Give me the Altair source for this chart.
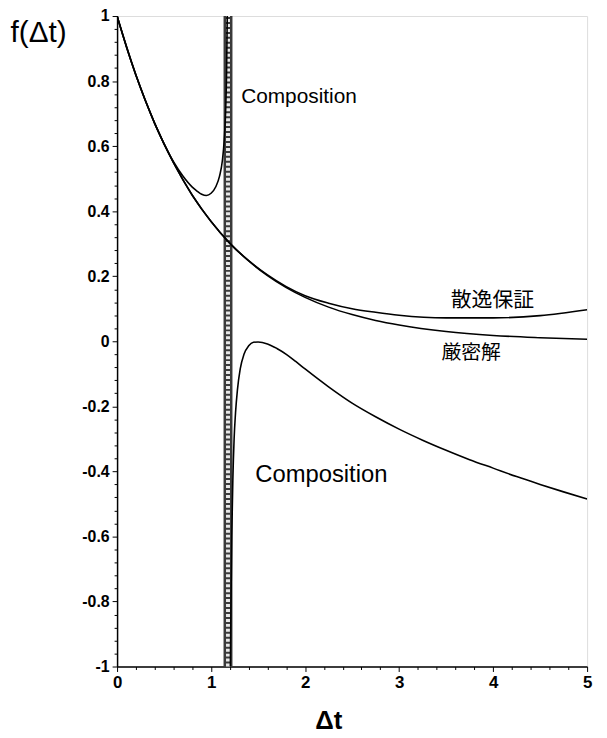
import altair as alt
import pandas as pd

# ---- data ----
x_exact = [0, 0.1, 0.2, 0.3, 0.4, 0.5, 0.6, 0.7, 0.8, 0.9, 1.0, 1.2, 1.4, 1.6, 1.8, 2.0,
           2.25, 2.5, 2.75, 3.0, 3.5, 4.0, 4.5, 5.0]
y_exact = [1.0, 0.905, 0.819, 0.741, 0.670, 0.607, 0.549, 0.497, 0.449, 0.407, 0.368, 0.301,
           0.247, 0.202, 0.165, 0.135, 0.105, 0.082, 0.064, 0.05, 0.03, 0.018, 0.011, 0.006]

x_diss = [0, 0.2, 0.4, 0.6, 0.8, 1.0, 1.2, 1.4, 1.6, 1.8, 2.0, 2.25, 2.5, 2.75, 3.0, 3.5,
          4.0, 4.5, 5.0]
y_diss = [1.0, 0.819, 0.670, 0.549, 0.449, 0.368, 0.301, 0.248, 0.204, 0.168, 0.140, 0.117,
          0.100, 0.089, 0.080, 0.072, 0.072, 0.079, 0.097]

x_comp_up = [0, 0.1, 0.2, 0.3, 0.4, 0.5, 0.6, 0.7, 0.8, 0.85, 0.9, 0.95, 1.0, 1.05, 1.09,
             1.12, 1.14, 1.155, 1.165, 1.172]
y_comp_up = [1.0, 0.905, 0.819, 0.741, 0.670, 0.607, 0.552, 0.508, 0.474, 0.462, 0.452,
             0.448, 0.455, 0.475, 0.508, 0.555, 0.62, 0.71, 0.83, 1.0]

x_comp_lo = [1.205, 1.212, 1.22, 1.232, 1.245, 1.26, 1.28, 1.31, 1.35, 1.40, 1.45, 1.5, 1.6,
             1.7, 1.8, 1.9, 2.0, 2.25, 2.5, 2.75, 3.0, 3.25, 3.5, 3.75, 4.0, 4.25, 4.5,
             4.75, 5.0]
y_comp_lo = [-1.0, -0.8, -0.6, -0.42, -0.3, -0.22, -0.15, -0.085, -0.04, -0.014, -0.003,
             -0.002, -0.008, -0.022, -0.04, -0.062, -0.085, -0.14, -0.19, -0.232, -0.27,
             -0.304, -0.335, -0.364, -0.39, -0.416, -0.44, -0.463, -0.485]

band_x = [1.18]
band_y = [-1.0]
band_y2 = [1.0]

label_text = ["Composition", "Composition"]
label_x = [1.32, 1.47]
label_y = [0.75, -0.41]
label_size = [21, 24]

jp_text = ["散逸保証", "厳密解"]
jp_x = [3.55, 3.45]
jp_y = [0.125, -0.037]
jp_size = [21, 20]

x_ticks = [i / 5 for i in range(26)]
y_ticks = [j / 25 for j in range(-25, 26)]

# ---- tables ----
rows = []
for name, xs, ys in [("exact", x_exact, y_exact), ("diss", x_diss, y_diss),
                     ("comp_up", x_comp_up, y_comp_up), ("comp_lo", x_comp_lo, y_comp_lo)]:
    for x, y in zip(xs, ys):
        rows.append({"series": name, "x": x, "y": y})
df = pd.DataFrame(rows)
band_df = pd.DataFrame({"x": band_x, "y": band_y, "y2": band_y2})
lab_df = pd.DataFrame({"t": label_text, "x": label_x, "y": label_y, "s": label_size})
jp_df = pd.DataFrame({"t": jp_text, "x": jp_x, "y": jp_y, "s": jp_size})

FONT = "Liberation Sans"

xscale = alt.Scale(domain=[0, 5], nice=False, zero=False)
yscale = alt.Scale(domain=[-1, 1], nice=False, zero=False)

xaxis = alt.Axis(
    values=x_ticks, tickCount=500,
    labelExpr="datum.value % 1 === 0 ? '' + datum.value : ''",
    tickSize={"condition": {"test": "datum.value % 1 === 0", "value": 5}, "value": 3},
    title="Δt", titleFont=FONT, titleFontSize=26, titleFontWeight="bold",
    titleX=213, titleY=55, titleBaseline="middle", titleAlign="center",
    labelFont=FONT, labelFontSize=17, labelFontWeight="bold", labelPadding=3,
    labelColor="black", grid=False, domainColor="black", domainWidth=1.5,
    tickColor="black", tickWidth=1, labelFlush=False, labelOverlap=False,
)
yaxis = alt.Axis(
    values=y_ticks, tickCount=500,
    labelExpr="abs(round(datum.value * 25)) % 5 === 0 ? '' + datum.value : ''",
    tickSize={"condition": {"test": "abs(round(datum.value * 25)) % 5 === 0", "value": 5},
              "value": 3},
    title="f(Δt)", titleFont=FONT, titleFontSize=30, titleFontWeight="normal",
    titleAngle=0, titleAlign="left", titleBaseline="middle", titleX=-108, titleY=17,
    labelFont=FONT, labelFontSize=16, labelFontWeight="bold", labelPadding=3,
    labelColor="black", grid=False, domainColor="black", domainWidth=1.5,
    tickColor="black", tickWidth=1, labelFlush=False, labelOverlap=False,
)

band = alt.Chart(band_df).mark_rule(color="#3a3a3a", strokeWidth=9).encode(
    x=alt.X("x:Q", scale=xscale, axis=xaxis),
    y=alt.Y("y:Q", scale=yscale, axis=yaxis),
    y2="y2:Q",
)
band_dots = alt.Chart(band_df).mark_rule(color="#e8e8e8", strokeWidth=4,
                                         strokeDash=[3, 2]).encode(
    x="x:Q", y="y:Q", y2="y2:Q"
)

lines = alt.Chart(df).mark_line(color="black", strokeWidth=1.6, interpolate="monotone",
                                clip=True).encode(
    x="x:Q", y="y:Q", detail="series:N"
)

labels = alt.Chart(lab_df).mark_text(align="left", baseline="middle", font=FONT,
                                     color="black").encode(
    x="x:Q", y="y:Q", text="t:N", size=alt.Size("s:Q", scale=None, legend=None)
)
jp_labels = alt.Chart(jp_df).mark_text(align="left", baseline="middle",
                                       font="Noto Sans CJK JP", color="black").encode(
    x="x:Q", y="y:Q", text="t:N", size=alt.Size("s:Q", scale=None, legend=None)
)

chart = alt.layer(band, band_dots, lines, labels, jp_labels).properties(
    width=474, height=656,
    autosize=alt.AutoSizeParams(type="none"),
    padding={"left": 110, "top": 5, "right": 12, "bottom": 72},
).configure_view(stroke="black", strokeWidth=1.5).configure(background="white")

chart.save("out.html", embed_options={"renderer": "svg", "actions": False})
